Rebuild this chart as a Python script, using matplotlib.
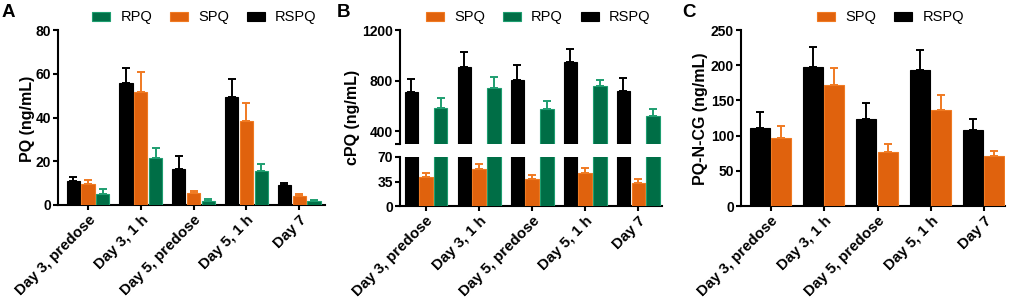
import matplotlib
matplotlib.use("Agg")
import matplotlib.pyplot as plt
import numpy as np
from matplotlib.patches import Patch

plt.rcParams['font.family'] = ['Liberation Sans', 'DejaVu Sans']

categories = ["Day 3, predose", "Day 3, 1 h", "Day 5, predose", "Day 5, 1 h", "Day 7"]

# Panel A: PQ (ng/mL)
a_rspq = [11.0, 55.6, 16.3, 49.5, 9.1]
a_rspq_err = [2.0, 7.2, 6.3, 8.0, 0.9]
a_spq = [9.5, 51.5, 5.6, 38.4, 4.3]
a_spq_err = [1.8, 9.2, 1.0, 8.1, 0.7]
a_rpq = [4.9, 21.3, 1.7, 15.7, 2.0]
a_rpq_err = [2.4, 4.6, 0.9, 2.9, 0.4]

# Panel B: cPQ (ng/mL)
b_rspq = [713, 906, 808, 950, 721]
b_rspq_err = [100, 118, 119, 103, 100]
b_spq = [40.8, 52.7, 38.8, 47.0, 33.1]
b_spq_err = [5.7, 7.7, 5.8, 6.7, 4.8]
b_rpq = [581, 739, 578, 760, 525]
b_rpq_err = [84, 93, 61, 45, 51]

# Panel C: PQ-N-CG (ng/mL)
c_rspq = [110.5, 196.9, 122.9, 193.0, 108.2]
c_rspq_err = [23.3, 28.9, 22.7, 28.0, 14.7]
c_spq = [96.8, 172.2, 77.3, 135.7, 70.7]
c_spq_err = [16.6, 24.2, 10.5, 21.3, 7.6]

GREEN = '#006E46'
GREEN_E = '#1E9E70'
ORANGE = '#E0620D'
ORANGE_E = '#F07A22'
BLACK = '#000000'

W, H = 1010, 299
fig = plt.figure(figsize=(W / 100, H / 100), dpi=100)

def fx(px):
    return px / W

def fy(py):
    return 1 - py / H

def make_ax(l, r, t, b):
    return fig.add_axes([fx(l), fy(b), fx(r) - fx(l), fy(t) - fy(b)])

SPW = 1.5
TFS = 10

def style(ax, xaxis=True):
    for s in ['top', 'right']:
        ax.spines[s].set_visible(False)
    ax.spines['left'].set_linewidth(SPW)
    ax.spines['bottom'].set_linewidth(SPW)
    ax.tick_params(axis='y', direction='out', length=3.5, width=SPW, pad=1.5,
                   labelsize=TFS)
    for lab in ax.get_yticklabels():
        lab.set_fontweight('bold')
    if xaxis:
        ax.tick_params(axis='x', direction='out', length=3.5, width=SPW, pad=2)
        ax.set_xticks(np.arange(len(categories)))
        ax.set_xticklabels(categories, rotation=45, ha='right', va='top',
                           rotation_mode='anchor', fontsize=10.8, fontweight='bold')
    else:
        ax.spines['bottom'].set_visible(False)
        ax.set_xticks([])

def bars(ax, pos, vals, errs, fc, ec, width, bottom=0):
    vals = np.asarray(vals, float)
    ax.bar(pos, vals - bottom, width, bottom=bottom, color=fc, edgecolor=ec,
           linewidth=0.8, zorder=3)
    ax.errorbar(pos, vals, yerr=[np.zeros_like(vals), errs], fmt='none',
                ecolor=ec if fc != BLACK else BLACK, elinewidth=1.4, capsize=3.2,
                capthick=1.4, zorder=2)

x = np.arange(len(categories))

# ---------------- Panel A ----------------
axA = make_ax(58, 325, 30, 205)
bw = 0.25
bars(axA, x - 0.28, a_rspq, a_rspq_err, BLACK, BLACK, bw)
bars(axA, x, a_spq, a_spq_err, ORANGE, ORANGE_E, bw)
bars(axA, x + 0.28, a_rpq, a_rpq_err, GREEN, GREEN_E, bw)
axA.set_ylim(0, 80)
axA.set_yticks([0, 20, 40, 60, 80])
axA.set_xlim(-0.57, 4.49)
style(axA)

# ---------------- Panel B ----------------
axBu = make_ax(400, 662, 30, 144)
axBl = make_ax(400, 662, 157, 206)
for ax in (axBu, axBl):
    bars(ax, x - 0.28, b_rspq, b_rspq_err, BLACK, BLACK, bw)
    bars(ax, x, b_spq, b_spq_err, ORANGE, ORANGE_E, bw)
    bars(ax, x + 0.28, b_rpq, b_rpq_err, GREEN, GREEN_E, bw)
    ax.set_xlim(-0.49, 4.45)
axBu.set_ylim(300, 1200)
axBu.set_yticks([300, 400, 800, 1200])
axBu.set_yticklabels(['', '400', '800', '1200'])
axBl.set_ylim(0, 70)
axBl.set_yticks([0, 35, 70])
style(axBu, xaxis=False)
style(axBl)

# ---------------- Panel C ----------------
axC = make_ax(741, 1005, 30, 206)
cw = 0.38
bars(axC, x - 0.21, c_rspq, c_rspq_err, BLACK, BLACK, cw)
bars(axC, x + 0.19, c_spq, c_spq_err, ORANGE, ORANGE_E, cw)
axC.set_ylim(0, 250)
axC.set_yticks([0, 50, 100, 150, 200, 250])
axC.set_xlim(-0.56, 4.39)
style(axC)

# y labels
ylfs = 11.5
fig.text(fx(27.5), fy(119), 'PQ (ng/mL)', rotation=90, ha='center', va='center',
         fontsize=ylfs, fontweight='bold')
fig.text(fx(352), fy(117), 'cPQ (ng/mL)', rotation=90, ha='center', va='center',
         fontsize=ylfs, fontweight='bold')
fig.text(fx(700), fy(118.5), 'PQ-N-CG (ng/mL)', rotation=90, ha='center', va='center',
         fontsize=ylfs, fontweight='bold')

# panel letters
for px, letter in [(2, 'A'), (337, 'B'), (682, 'C')]:
    fig.text(fx(px), fy(4), letter, ha='left', va='top', fontsize=13.5,
             fontweight='bold')

# legends
def legend(items, left_px):
    handles = [Patch(facecolor=fc, edgecolor=ec, linewidth=0.8, label=lab)
               for lab, fc, ec in items]
    fig.legend(handles=handles, loc='center left',
               bbox_to_anchor=(fx(left_px), fy(17.5)), ncol=len(items),
               frameon=False, fontsize=10.5, handlelength=1.25, handleheight=0.65,
               handletextpad=0.7, columnspacing=1.2, borderpad=0,
               borderaxespad=0)

legend([('RPQ', GREEN, GREEN_E), ('SPQ', ORANGE, ORANGE_E), ('RSPQ', BLACK, BLACK)], 92)
legend([('SPQ', ORANGE, ORANGE_E), ('RPQ', GREEN, GREEN_E), ('RSPQ', BLACK, BLACK)], 426)
legend([('SPQ', ORANGE, ORANGE_E), ('RSPQ', BLACK, BLACK)], 817)

fig.savefig('out.png', dpi=100)
